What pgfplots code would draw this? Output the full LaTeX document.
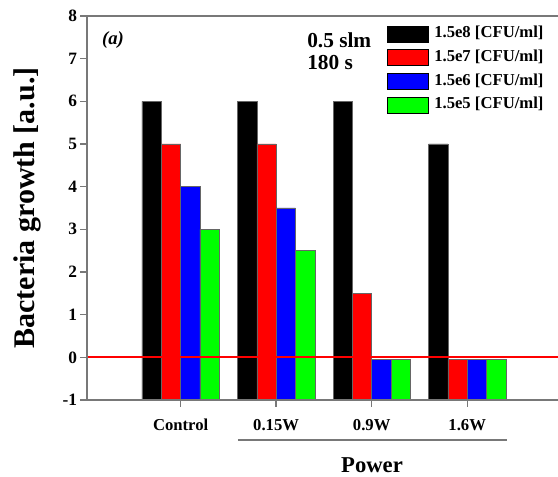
\documentclass[border=0pt]{standalone}
\usepackage{pgfplots}
\pgfplotsset{compat=1.18}
\usepackage{fontspec}
\setmainfont{Liberation Serif}
\definecolor{axgray}{RGB}{120,120,120}
\definecolor{pureRed}{RGB}{255,0,0}
\definecolor{pureBlue}{RGB}{0,0,255}
\definecolor{pureGreen}{RGB}{0,255,0}
\begin{document}
\begin{tikzpicture}
\path[use as bounding box] (-65.25pt,-57.75pt) rectangle (353.25pt,300pt);
\begin{axis}[
    at={(0,0)}, anchor=south west,
    scale only axis,
    width=353.25pt, height=288pt,
    ybar=0pt,
    bar width=14.5pt,
    xmin=-0.98, xmax=3.95,
    ymin=0, ymax=9,
    % bars start at the bottom of the axis (-1): values are shifted by +1
    y filter/.expression={y+1},
    xtick={0,1,2,3},
    xticklabels={Control,0.15W,0.9W,1.6W},
    ytick={0,1,2,3,4,5,6,7,8,9},
    yticklabels={-1,0,1,2,3,4,5,6,7,8},
    tick align=outside,
    xtick pos=bottom,
    ytick pos=left,
    major tick length=5pt,
    axis line style={draw=none},
    every tick/.style={axgray, line width=1.1pt},
    /pgf/number format/assume math mode=true,
    yticklabel style={font=\bfseries\fontsize{13}{15}\selectfont, xshift=1pt},
    xticklabel style={font=\bfseries\fontsize{12.5}{14}\selectfont, yshift=-6pt},
    legend style={at={(225pt,281pt)}, anchor=north west, draw=none, fill=none,
        inner sep=0pt, font=\bfseries\fontsize{12.5}{14}\selectfont,
        nodes={inner sep=0pt, text height=9pt, text depth=3pt},
        row sep=5.25pt, /tikz/every odd column/.append style={column sep=4pt}},
    legend cell align=left,
    legend image code/.code={\draw[#1, draw=black, line width=0.5pt] (0pt,-6pt) rectangle (30.75pt,6pt);},
    every axis plot/.append style={draw=black!60, line width=0.4pt},
]
\addplot[fill=black] coordinates {(0,6) (1,6) (2,6) (3,5)};
\addplot[fill=pureRed] coordinates {(0,5) (1,5) (2,1.5) (3,-0.05)};
\addplot[fill=pureBlue] coordinates {(0,4) (1,3.5) (2,-0.05) (3,-0.05)};
\addplot[fill=pureGreen] coordinates {(0,3) (1,2.5) (2,-0.05) (3,-0.05)};
\legend{1.5e8 [CFU/ml],1.5e7 [CFU/ml],1.5e6 [CFU/ml],1.5e5 [CFU/ml]}
\end{axis}
% open frame: left, bottom and top lines only (the right side runs off the page)
\draw[axgray, line width=1.1pt] (353.25pt,288pt) -- (0pt,288pt) -- (0pt,0pt) -- (353.25pt,0pt);
% zero line
\draw[draw=pureRed, line width=1.3pt] (0.6pt,32pt) -- (353.25pt,32pt);
\node[rotate=90, font=\bfseries\fontsize{22.5}{26}\selectfont] at (-45pt,144pt) {Bacteria growth [a.u.]};
\node[font=\bfseries\itshape\fontsize{14}{16}\selectfont] at (19.5pt,270pt) {(a)};
\node[anchor=west, inner sep=0pt, font=\bfseries\fontsize{16}{18}\selectfont] at (165pt,270pt) {0.5 slm};
\node[anchor=west, inner sep=0pt, font=\bfseries\fontsize{16}{18}\selectfont] at (165pt,252.75pt) {180 s};
\draw[axgray, line width=1.5pt] (113.25pt,-30pt) -- (315pt,-30pt);
\node[font=\bfseries\fontsize{17}{20}\selectfont] at (213.75pt,-48.75pt) {Power};
\end{tikzpicture}
\end{document}
